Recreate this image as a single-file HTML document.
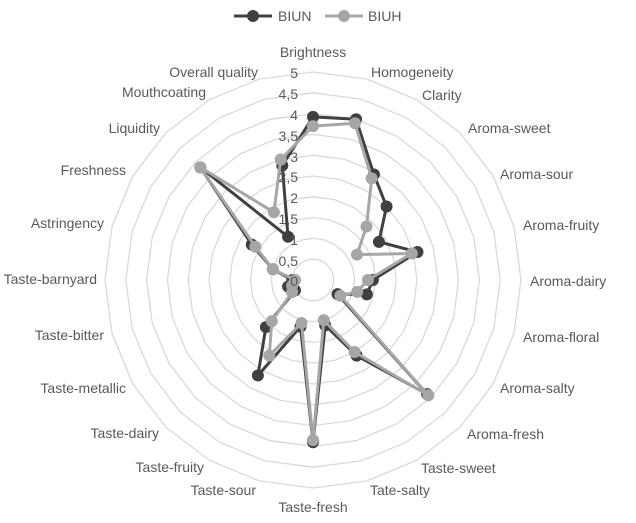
<!DOCTYPE html>
<html><head><meta charset="utf-8"><style>
html,body{margin:0;padding:0;background:#fff;}
svg{display:block;}
text{font-family:"Liberation Sans",Arial,sans-serif;font-size:14px;fill:#595959;}
</style></head><body>
<svg id="s" width="636" height="523" viewBox="0 0 636 523" xmlns="http://www.w3.org/2000/svg">
<g id="grid" fill="none" stroke="#d9d9d9" stroke-width="1.3"></g>
<g id="series"></g>
<g>
<text x="298" y="78" text-anchor="end">5</text>
<text x="298" y="99" text-anchor="end">4,5</text>
<text x="298" y="120" text-anchor="end">4</text>
<text x="298" y="141" text-anchor="end">3,5</text>
<text x="298" y="162" text-anchor="end">3</text>
<text x="298" y="182" text-anchor="end">2,5</text>
<text x="298" y="203" text-anchor="end">2</text>
<text x="298" y="224" text-anchor="end">1,5</text>
<text x="298" y="245" text-anchor="end">1</text>
<text x="298" y="266" text-anchor="end">0,5</text>
<text x="298" y="286" text-anchor="end">0</text>
</g>
<g>
<text x="313" y="57" text-anchor="middle">Brightness</text>
<text x="371" y="77">Homogeneity</text>
<text x="422" y="100">Clarity</text>
<text x="468" y="133">Aroma-sweet</text>
<text x="500" y="179">Aroma-sour</text>
<text x="523" y="230">Aroma-fruity</text>
<text x="530" y="286">Aroma-dairy</text>
<text x="523" y="342">Aroma-floral</text>
<text x="500" y="393">Aroma-salty</text>
<text x="467" y="439">Aroma-fresh</text>
<text x="421" y="473">Taste-sweet</text>
<text x="370" y="495">Tate-salty</text>
<text x="313" y="512" text-anchor="middle">Taste-fresh</text>
<text x="256" y="495" text-anchor="end">Taste-sour</text>
<text x="204" y="472" text-anchor="end">Taste-fruity</text>
<text x="159" y="438" text-anchor="end">Taste-dairy</text>
<text x="126" y="393" text-anchor="end">Taste-metallic</text>
<text x="104" y="340" text-anchor="end">Taste-bitter</text>
<text x="97" y="284" text-anchor="end">Taste-barnyard</text>
<text x="104" y="228" text-anchor="end">Astringency</text>
<text x="126" y="175" text-anchor="end">Freshness</text>
<text x="160" y="133" text-anchor="end">Liquidity</text>
<text x="206" y="97" text-anchor="end">Mouthcoating</text>
<text x="258" y="77" text-anchor="end">Overall quality</text>
</g>
<g>
<line x1="234" y1="16" x2="272" y2="16" stroke="#404040" stroke-width="3"/>
<circle cx="253" cy="16" r="6" fill="#404040"/>
<text x="278" y="21">BIUN</text>
<line x1="325" y1="16" x2="363" y2="16" stroke="#a6a6a6" stroke-width="3"/>
<circle cx="344" cy="16" r="6" fill="#a6a6a6"/>
<text x="368" y="21">BIUH</text>
</g>
</svg>
<script>
var cx=313,cy=280,U=41.6,N=24,ns="http://www.w3.org/2000/svg";
function pt(i,v){var a=i*Math.PI*2/N;return [cx+Math.sin(a)*v*U, cy-Math.cos(a)*v*U];}
var g=document.getElementById('grid');
for(var k=1;k<=10;k++){var p=[];for(var i=0;i<N;i++){var q=pt(i,k*0.5);p.push(q[0].toFixed(1)+','+q[1].toFixed(1));}
var el=document.createElementNS(ns,'polygon');el.setAttribute('points',p.join(' '));g.appendChild(el);}
var dark=[3.92,4.0,2.93,2.5,1.83,2.6,1.44,1.34,0.68,3.88,2.1,1.13,3.9,1.16,2.65,1.6,0.5,0.62,0.5,1.0,1.7,3.83,1.2,2.85];
var light=[3.7,3.9,2.82,1.82,1.22,2.46,1.32,1.1,0.76,3.92,2.0,1.0,3.85,1.07,2.1,1.4,0.58,0.52,0.43,1.0,1.6,3.83,1.88,3.0];
var s=document.getElementById('series');
function draw(d,c){var p=[];for(var i=0;i<N;i++){var q=pt(i,d[i]);p.push(q[0].toFixed(1)+','+q[1].toFixed(1));}
var pl=document.createElementNS(ns,'polygon');pl.setAttribute('points',p.join(' '));pl.setAttribute('fill','none');pl.setAttribute('stroke',c);pl.setAttribute('stroke-width','3');pl.setAttribute('stroke-linejoin','round');s.appendChild(pl);
for(var i=0;i<N;i++){var q=pt(i,d[i]);var ci=document.createElementNS(ns,'circle');ci.setAttribute('cx',q[0]);ci.setAttribute('cy',q[1]);ci.setAttribute('r','6');ci.setAttribute('fill',c);s.appendChild(ci);}}
draw(dark,'#404040');draw(light,'#a6a6a6');
</script>
</body></html>
